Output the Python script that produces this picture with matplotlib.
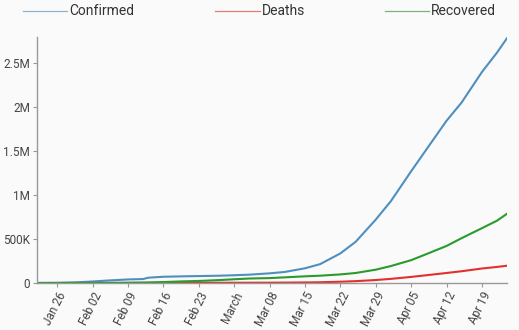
import numpy as np
import pandas as pd
import matplotlib
matplotlib.use("Agg")
import matplotlib.pyplot as plt
import matplotlib.dates as mdates

plt.rcParams['font.family'] = ['Roboto', 'DejaVu Sans']

# global cumulative counts
dates = ["2020-01-22", "2020-01-26", "2020-01-30", "2020-02-02", "2020-02-05",
         "2020-02-09", "2020-02-12", "2020-02-13", "2020-02-16", "2020-02-20",
         "2020-02-23", "2020-02-27", "2020-03-01", "2020-03-04", "2020-03-08",
         "2020-03-11", "2020-03-15", "2020-03-18", "2020-03-22", "2020-03-25",
         "2020-03-29", "2020-04-01", "2020-04-05", "2020-04-08", "2020-04-12",
         "2020-04-15", "2020-04-19", "2020-04-22", "2020-04-24"]
confirmed = [555, 2118, 8234, 17391, 28266, 40553, 45221, 60368, 71226, 76199,
             78985, 83112, 88369, 95124, 109965, 125865, 167449, 214910, 336953,
             467653, 721817, 932605, 1272115, 1518719, 1846680, 2056054, 2401378,
             2623960, 2790000]
deaths = [17, 56, 171, 362, 565, 906, 1118, 1371, 1770, 2247, 2469, 2801, 2996,
          3254, 3803, 4615, 6440, 8733, 14651, 21181, 33925, 47245, 69374, 88338,
          114090, 134177, 165044, 183027, 197000]
recovered = [28, 52, 143, 472, 1124, 3244, 5150, 6295, 10865, 18890, 23394,
             33277, 42716, 51171, 55866, 64404, 76034, 83312, 97882, 113770,
             151766, 193177, 260012, 328661, 421722, 511019, 623903, 710000, 790000]

tick_dates = ["2020-01-26", "2020-02-02", "2020-02-09", "2020-02-16", "2020-02-23",
              "2020-03-01", "2020-03-08", "2020-03-15", "2020-03-22", "2020-03-29",
              "2020-04-05", "2020-04-12", "2020-04-19"]
tick_labels = ["Jan 26", "Feb 02", "Feb 09", "Feb 16", "Feb 23", "March", "Mar 08",
               "Mar 15", "Mar 22", "Mar 29", "Apr 05", "Apr 12", "Apr 19"]

x = pd.to_datetime(dates)

fig = plt.figure(figsize=(5.19, 3.30), dpi=100, facecolor="#fafafa")
ax = fig.add_axes([0.0713, 0.1424, 0.906, 0.7455], facecolor="#fafafa")

ax.plot(x, confirmed, color="#4f8fc0", lw=1.5, label="Confirmed")
ax.plot(x, deaths, color="#e0312e", lw=1.5, label="Deaths")
ax.plot(x, recovered, color="#2a9a2a", lw=1.5, label="Recovered")

ax.set_xlim(x[0], x[-1])
ax.set_ylim(0, 2.8e6)
ax.set_yticks([0, 5e5, 1e6, 1.5e6, 2e6, 2.5e6])
ax.set_yticklabels(["0", "500K", "1M", "1.5M", "2M", "2.5M"])
ax.set_xticks(pd.to_datetime(tick_dates))
ax.set_xticklabels(tick_labels, rotation=63, ha="right", rotation_mode="anchor")

for s in ["top", "right"]:
    ax.spines[s].set_visible(False)
for s in ["left", "bottom"]:
    ax.spines[s].set_color("#999999")
    ax.spines[s].set_linewidth(1.0)
ax.tick_params(axis="both", colors="#999999", labelcolor="#444444",
               labelsize=8.5, length=3, width=0.8, pad=2)

# legend drawn across the top
leg_x = [0.045, 0.415, 0.742]
leg_items = [("Confirmed", "#8fb3cf"), ("Deaths", "#e57b78"), ("Recovered", "#7fb07f")]
for lx, (name, col) in zip(leg_x, leg_items):
    fig.add_artist(plt.Line2D([lx, lx + 0.085], [0.968, 0.968], color=col, lw=0.9,
                              transform=fig.transFigure))
    fig.text(lx + 0.089, 0.968, name, color="#333333", fontsize=10,
             va="center", ha="left")

fig.savefig("out.png", dpi=100, facecolor=fig.get_facecolor())
